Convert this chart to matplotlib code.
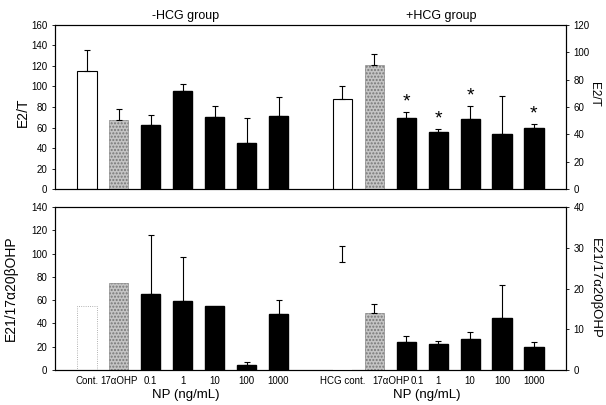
import numpy as np
import matplotlib
matplotlib.use("Agg")
import matplotlib.pyplot as plt

plt.rcParams['font.family'] = ['Liberation Sans', 'DejaVu Sans']

labels_minus = ["Cont.", "17\u03b1OHP", "0.1", "1", "10", "100", "1000"]
labels_plus = ["HCG cont.", "17\u03b1OHP", "0.1", "1", "10", "100", "1000"]

# E2/T
e2t_minus = [115, 67, 62, 96, 70, 45, 71]
e2t_minus_err = [21, 11, 10, 6, 11, 24, 19]
e2t_plus = [66, 91, 52, 42, 51, 40, 45]
e2t_plus_err = [9, 8, 4.6, 2, 9.6, 28, 2.5]
e2t_star = [False, False, True, True, True, False, True]

# E21/17a20bOHP
e21_minus = [55, 75, 65, 59, 55, 4, 48]
e21_minus_err = [0, 0, 51, 38, 0, 3, 12]
e21_plus = [26.6, 14, 6.8, 6.3, 7.6, 12.7, 5.6]
e21_plus_err = [3.8, 2.3, 1.6, 0.7, 1.8, 8.1, 1.2]

x_minus = np.arange(7)
x_plus = np.arange(8, 15)
label_shift_plus = np.array([0.0, 0.53, 0.34, 0, 0, 0, 0])

w = 0.6
gray = '#c4c4c4'


def draw_group(ax, x, vals, errs, cont_style):
    for i in range(7):
        if i == 0:
            ax.bar(x[i], vals[i], w, **cont_style)
        elif i == 1:
            ax.bar(x[i], vals[i], w, facecolor=gray, edgecolor='#777777', hatch='.....', lw=0.4)
        else:
            ax.bar(x[i], vals[i], w, facecolor='black', edgecolor='black')
    errs = np.asarray(errs, dtype=float)
    keep = errs > 0
    ax.errorbar(x[keep], np.asarray(vals)[keep], yerr=[np.zeros(keep.sum()), errs[keep]],
                fmt='none', ecolor='black', elinewidth=0.8, capsize=2, capthick=0.8)


fig = plt.figure(figsize=(6.06, 4.05), dpi=100)
ax_top = fig.add_axes([0.0908, 0.5333, 0.843, 0.405])
ax_bot = fig.add_axes([0.0908, 0.0864, 0.843, 0.4025])
ax_top_r = ax_top.twinx()
ax_bot_r = ax_bot.twinx()

solid_cont = dict(facecolor='white', edgecolor='black', lw=0.8)
faint_cont = dict(facecolor='white', edgecolor='#999999', lw=0.6, ls=':')
none_cont = dict(facecolor='white', edgecolor='none')

draw_group(ax_top, x_minus, e2t_minus, e2t_minus_err, solid_cont)
draw_group(ax_top_r, x_plus, e2t_plus, e2t_plus_err, solid_cont)
draw_group(ax_bot, x_minus, e21_minus, e21_minus_err, faint_cont)
draw_group(ax_bot_r, x_plus, e21_plus, e21_plus_err, none_cont)

for i in range(7):
    if e2t_star[i]:
        ax_top_r.annotate('*', (x_plus[i], e2t_plus[i] + e2t_plus_err[i]),
                          xytext=(0, 1), textcoords='offset points',
                          ha='center', va='bottom', fontsize=14)

for ax in [ax_top, ax_bot, ax_top_r, ax_bot_r]:
    ax.set_xlim(-1, 15)
    ax.tick_params(labelsize=7, length=2, width=0.6)
    for s in ax.spines.values():
        s.set_linewidth(0.8)

ax_top.set_ylim(0, 160)
ax_top.set_yticks(np.arange(0, 161, 20))
ax_top_r.set_ylim(0, 120)
ax_top_r.set_yticks(np.arange(0, 121, 20))
ax_bot.set_ylim(0, 140)
ax_bot.set_yticks(np.arange(0, 141, 20))
ax_bot_r.set_ylim(0, 40)
ax_bot_r.set_yticks(np.arange(0, 41, 10))

ax_top.set_xticks([])
ax_bot.set_xticks(np.concatenate([x_minus, x_plus + label_shift_plus]))
ax_bot.set_xticklabels(labels_minus + labels_plus)
ax_bot.tick_params(axis='x', length=0, pad=4)

ax_top.set_ylabel("E2/T", fontsize=10)
ax_top.yaxis.set_label_coords(-0.05, 0.47)
ax_top_r.set_ylabel("E2/T", fontsize=8.5, rotation=270, va='center')
ax_top_r.yaxis.set_label_coords(1.055, 0.58)
ax_bot.set_ylabel("E21/17\u03b120\u03b2OHP", fontsize=10)
ax_bot.yaxis.set_label_coords(-0.072, 0.5)
ax_bot_r.set_ylabel("E21/17\u03b120\u03b2OHP", fontsize=9.5, rotation=270, va='center')
ax_bot_r.yaxis.set_label_coords(1.057, 0.5)

ax_top.text(3.08, 1.02, "-HCG group", transform=ax_top.get_xaxis_transform(),
            ha='center', va='bottom', fontsize=9)
ax_top.text(11.1, 1.02, "+HCG group", transform=ax_top.get_xaxis_transform(),
            ha='center', va='bottom', fontsize=9)

ax_bot.text(3.1, -0.155, "NP (ng/mL)", transform=ax_bot.get_xaxis_transform(),
            ha='center', va='center', fontsize=9.5)
ax_bot.text(10.65, -0.155, "NP (ng/mL)", transform=ax_bot.get_xaxis_transform(),
            ha='center', va='center', fontsize=9.5)

fig.savefig("out.png", dpi=100)
